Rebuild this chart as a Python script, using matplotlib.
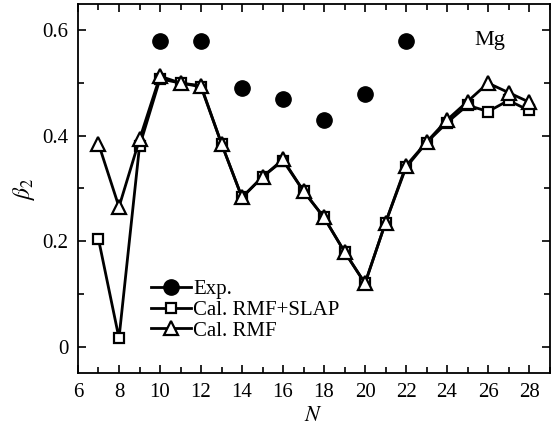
import matplotlib
matplotlib.use("Agg")
import matplotlib.pyplot as plt
from matplotlib.lines import Line2D
from matplotlib.ticker import MultipleLocator

plt.rcParams['font.family'] = ['Liberation Serif', 'DejaVu Serif']
plt.rcParams['mathtext.fontset'] = 'stix'

exp_N = [10, 12, 14, 16, 18, 20, 22]
exp_b = [0.58, 0.58, 0.49, 0.47, 0.43, 0.48, 0.58]

cal_N = list(range(7, 29))
slap_b = [0.204, 0.016, 0.38, 0.508, 0.50, 0.493, 0.385, 0.283, 0.322, 0.353, 0.295,
          0.245, 0.18, 0.12, 0.235, 0.34, 0.387, 0.425, 0.458, 0.446, 0.467, 0.448]
rmf_b = [0.385, 0.265, 0.393, 0.513, 0.50, 0.495, 0.385, 0.283, 0.322, 0.355, 0.295,
         0.245, 0.18, 0.12, 0.235, 0.343, 0.388, 0.43, 0.465, 0.50, 0.482, 0.464]

fig = plt.figure(figsize=(5.52, 4.28), dpi=100)
ax = fig.add_axes([0.1413, 0.1285, 0.8542, 0.8622])

lw = 2.0
ax.plot(cal_N, slap_b, '-s', color='black', lw=lw, ms=7.5, mfc='white', mec='black', mew=1.6, zorder=3)
ax.plot(cal_N, rmf_b, '-^', color='black', lw=lw, ms=9.5, mfc='white', mec='black', mew=1.6, zorder=4)
ax.plot(exp_N, exp_b, 'o', color='black', ms=11, ls='none', zorder=5)

ax.set_xlim(6, 29)
ax.set_ylim(-0.05, 0.65)
ax.xaxis.set_major_locator(MultipleLocator(2))
ax.xaxis.set_minor_locator(MultipleLocator(1))
ax.yaxis.set_minor_locator(MultipleLocator(0.1))
ax.set_yticks([0, 0.2, 0.4, 0.6])
ax.set_yticklabels(['0', '0.2', '0.4', '0.6'])
ax.tick_params(which='both', direction='in', top=True, right=True, labelsize=15, width=1.2)
ax.tick_params(which='major', length=6, pad=7)
ax.tick_params(which='minor', length=4)
for s in ax.spines.values():
    s.set_linewidth(1.3)

ax.set_xlabel(r'$N$', fontsize=16, labelpad=4)
ax.set_ylabel(r'$\beta_2$', fontsize=17, labelpad=4)
ax.text(0.84, 0.89, 'Mg', transform=ax.transAxes, fontsize=16)

handles = [
    Line2D([], [], color='black', lw=lw, marker='o', ms=11),
    Line2D([], [], color='black', lw=lw, marker='s', ms=7.5, mfc='white', mew=1.6),
    Line2D([], [], color='black', lw=lw, marker='^', ms=9.5, mfc='white', mew=1.6),
]
ax.legend(handles, ['Exp.', 'Cal. RMF+SLAP', 'Cal. RMF'], loc='lower left',
          bbox_to_anchor=(0.138, 0.065), frameon=False, fontsize=15,
          handlelength=1.9, handletextpad=0.1, labelspacing=0.05, borderaxespad=0)

fig.savefig('out.png', dpi=100)
